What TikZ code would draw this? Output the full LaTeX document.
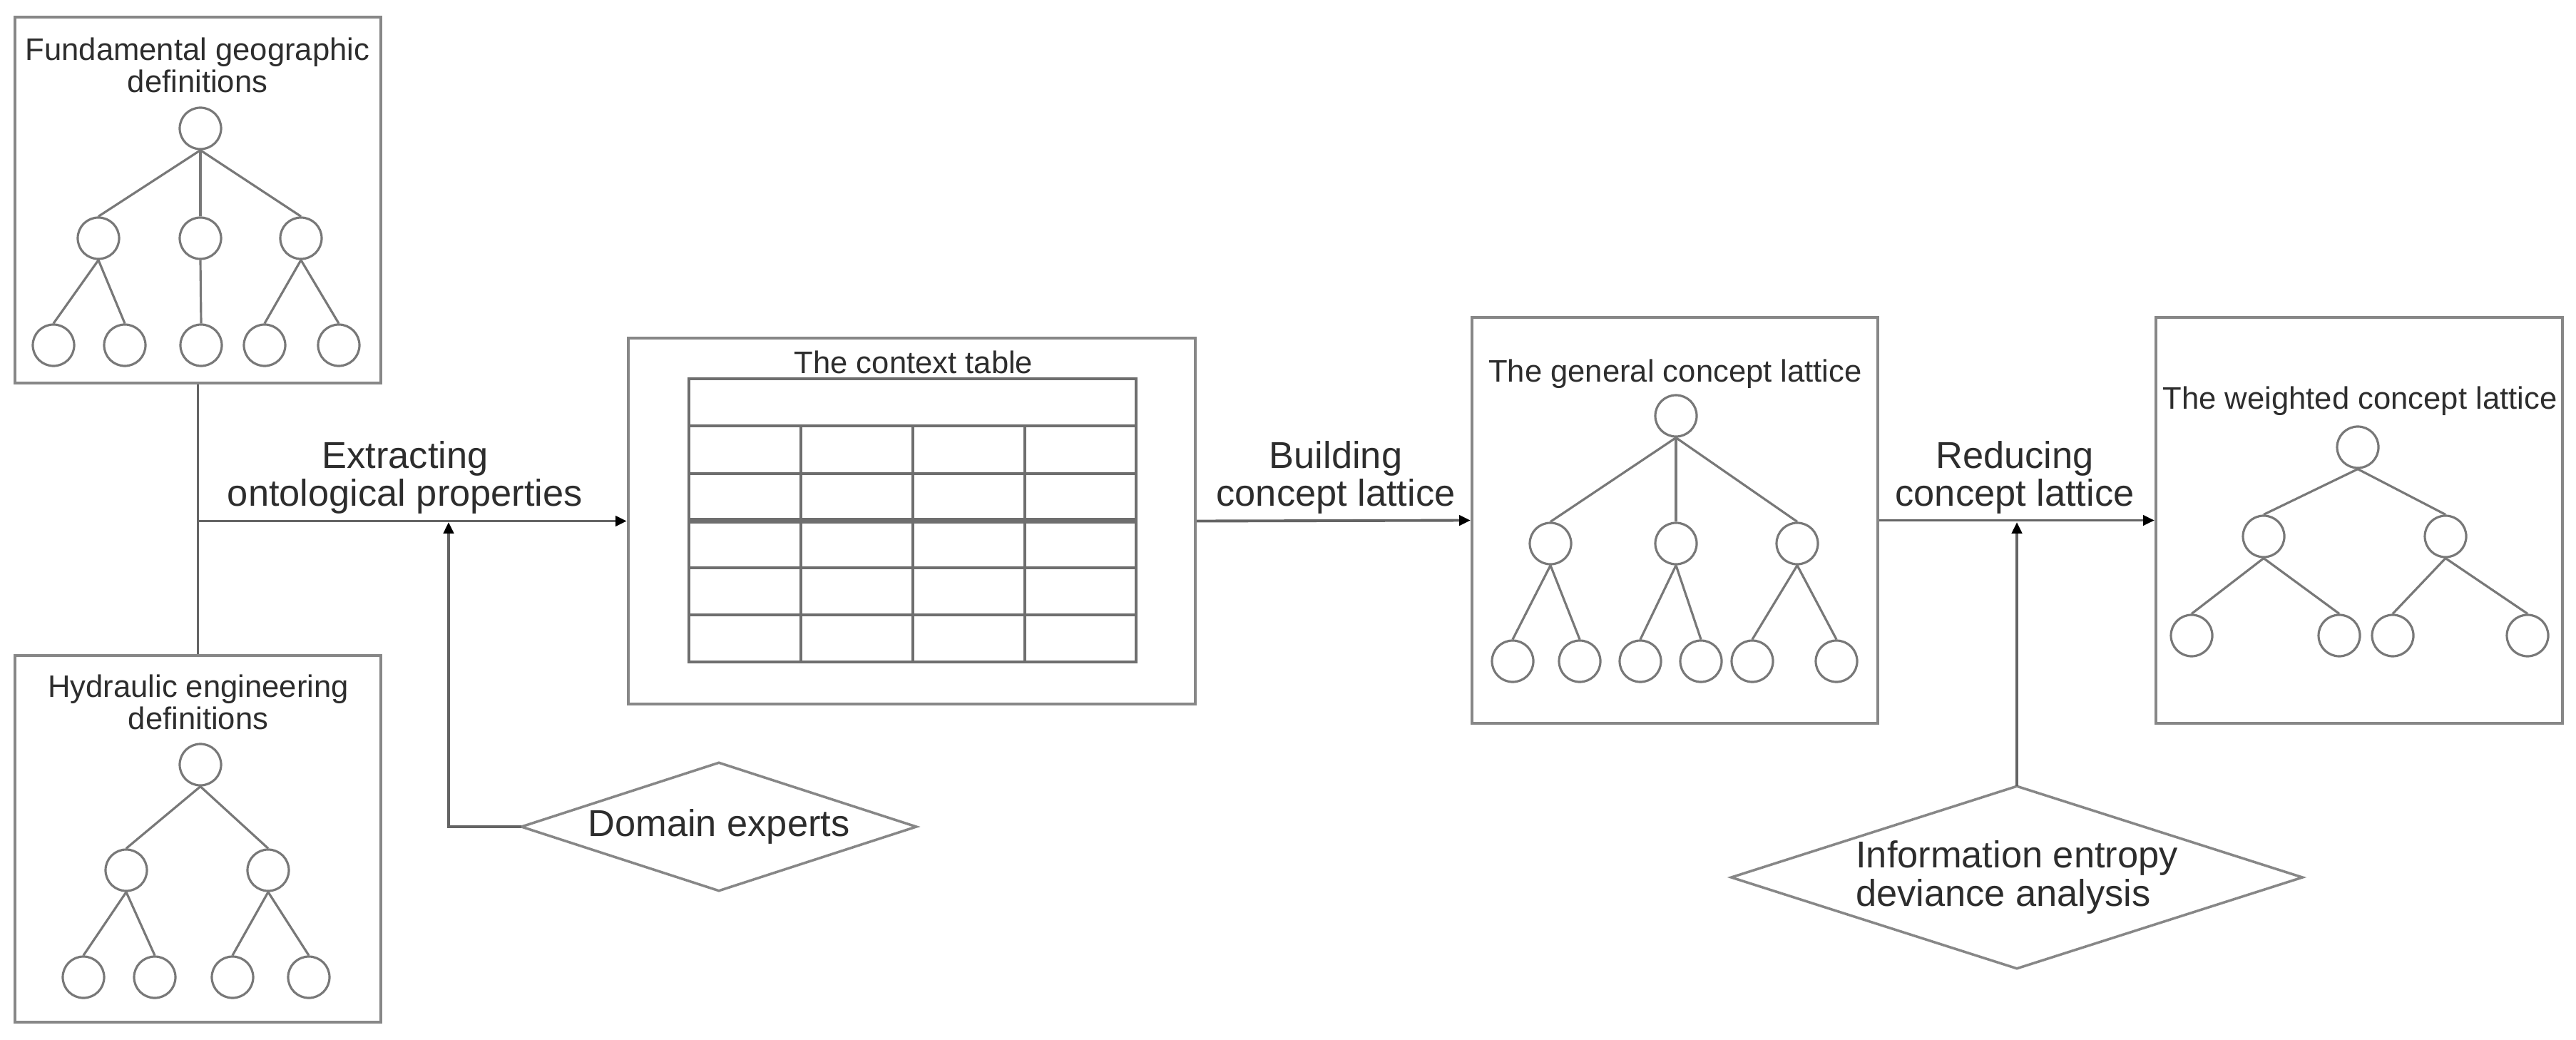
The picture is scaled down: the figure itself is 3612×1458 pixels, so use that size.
\documentclass[tikz,border=0pt]{standalone}
\usepackage{fontspec}
\setmainfont{Liberation Sans}
\usetikzlibrary{arrows.meta}
\definecolor{boxgray}{RGB}{135,135,135}
\definecolor{linegray}{RGB}{120,120,120}
\definecolor{tabgray}{RGB}{110,110,110}
\definecolor{arrowgray}{RGB}{100,100,100}
\definecolor{txt}{RGB}{45,45,45}
\begin{document}
\begin{tikzpicture}[x=0.01cm,y=-0.01cm,
  panel/.style={draw=boxgray, line width=1.1pt, inner sep=0pt},
  cn/.style={circle, draw=linegray, line width=0.9pt, minimum size=0.58cm, inner sep=0pt},
  edge/.style={draw=linegray, line width=0.9pt},
  ttl/.style={font=\fontsize{12.4}{12.8}\selectfont, text=txt, inner sep=0pt, align=center, anchor=north},
  lbl/.style={font=\fontsize{14.9}{15.1}\selectfont, text=txt, inner sep=0pt, align=center, anchor=south},
  link/.style={draw=arrowgray, line width=1.1pt},
  arr/.style={link, -{Triangle[length=4.5pt,width=4pt,color=black]}},
  dia/.style={rectangle, inner sep=0pt, font=\fontsize{14.9}{15.4}\selectfont, text=txt},
  diaedge/.style={draw=boxgray, line width=1pt, line join=miter},
  tab/.style={draw=tabgray, line width=1pt}
]
\useasboundingbox (0,0) rectangle (3612,1458);
\fill[white] (0,0) rectangle (3612,1458);

% panels
\node[panel, minimum width=5.13cm, minimum height=5.13cm] (b1) at (277.5,280.5) {};
\node[panel, minimum width=5.13cm, minimum height=5.14cm] (b2) at (277.5,1176) {};
\node[panel, minimum width=7.95cm, minimum height=5.13cm] (ctx) at (1278.5,730.5) {};
\node[panel, minimum width=5.69cm, minimum height=5.69cm] (gen) at (2348.5,729.5) {};
\node[panel, minimum width=5.70cm, minimum height=5.69cm] (wtd) at (3308,729.5) {};

% titles
\node[ttl] (t1) at (277,52) {Fundamental geographic\\definitions};
\node[ttl] (t2) at (278,945) {Hydraulic engineering\\definitions};
\node[ttl] (t3) at (1281,491) {The context table};
\node[ttl] (t4) at (2349,503) {The general concept lattice};
\node[ttl] (t5) at (3309,541) {The weighted concept lattice};

% tree 1
\node[cn] (a0) at (281,180) {};
\node[cn] (a1) at (138,334) {};
\node[cn] (a2) at (281,334) {};
\node[cn] (a3) at (422,334) {};
\node[cn] (a4) at (75,484) {};
\node[cn] (a5) at (175,484) {};
\node[cn] (a6) at (282,484) {};
\node[cn] (a7) at (371,484) {};
\node[cn] (a8) at (475,484) {};
\foreach \p/\c in {a0/a1,a0/a2,a0/a3,a1/a4,a1/a5,a2/a6,a3/a7,a3/a8}
  \draw[edge] (\p.south) -- (\c.north);

% tree 2
\node[cn] (c0) at (281,1072) {};
\node[cn] (c1) at (177,1220) {};
\node[cn] (c2) at (376,1220) {};
\node[cn] (c3) at (117,1370) {};
\node[cn] (c4) at (217,1370) {};
\node[cn] (c5) at (326,1370) {};
\node[cn] (c6) at (433,1370) {};
\foreach \p/\c in {c0/c1,c0/c2,c1/c3,c1/c4,c2/c5,c2/c6}
  \draw[edge] (\p.south) -- (\c.north);

% general lattice
\node[cn] (g0) at (2350,583) {};
\node[cn] (g1) at (2174,762) {};
\node[cn] (g2) at (2350,762) {};
\node[cn] (g3) at (2520,762) {};
\node[cn] (g4) at (2121,927) {};
\node[cn] (g5) at (2215,927) {};
\node[cn] (g6) at (2300,927) {};
\node[cn] (g7) at (2385,927) {};
\node[cn] (g8) at (2457,927) {};
\node[cn] (g9) at (2575,927) {};
\foreach \p/\c in {g0/g1,g0/g2,g0/g3,g1/g4,g1/g5,g2/g6,g2/g7,g3/g8,g3/g9}
  \draw[edge] (\p.south) -- (\c.north);

% weighted lattice
\node[cn] (w0) at (3306,627) {};
\node[cn] (w1) at (3174,752) {};
\node[cn] (w2) at (3429,752) {};
\node[cn] (w3) at (3073,891) {};
\node[cn] (w4) at (3280,891) {};
\node[cn] (w5) at (3355,891) {};
\node[cn] (w6) at (3544,891) {};
\foreach \p/\c in {w0/w1,w0/w2,w1/w3,w1/w4,w2/w5,w2/w6}
  \draw[edge] (\p.south) -- (\c.north);

% context table
\draw[tab] (966,531) rectangle (1593,928);
\foreach \yy in {597,664,796,862}
  \draw[tab] (966,\yy) -- (1593,\yy);
\draw[tab, line width=2pt] (966,730) -- (1593,730);
\foreach \xx in {1123,1280,1437}
  \draw[tab] (\xx,597) -- (\xx,928);

% diamonds
\node[dia, minimum width=5.52cm, minimum height=1.78cm] (dom) at (1008,1159) {Domain experts};
\draw[diaedge] (dom.west) -- (dom.north) -- (dom.east) -- (dom.south) -- cycle;
\node[dia, minimum width=7.99cm, minimum height=2.54cm, align=left] (info) at (2828,1230) {Information entropy\\deviance analysis};
\draw[diaedge] (info.west) -- (info.north) -- (info.east) -- (info.south) -- cycle;

% connectors
\coordinate (j1) at (b1.south |- ctx.west);
\coordinate (j2) at (629,732);
\draw[link] (b1.south) -- (b2.north);
\draw[arr] (j1) -- (ctx.west);
\draw[arr] (dom.west) -| (j2);
\draw[arr] (ctx.east) -- (gen.west);
\draw[arr] (gen.east) -- (wtd.west);
\draw[arr] (info.north) -- (info.north |- j2);

% labels
\node[lbl] (l1) at (568,721) {Extracting\\ontological properties};
\node[lbl] (l2) at (1873,721) {Building\\concept lattice};
\node[lbl] (l3) at (2825,721) {Reducing\\concept lattice};
\end{tikzpicture}
\end{document}
